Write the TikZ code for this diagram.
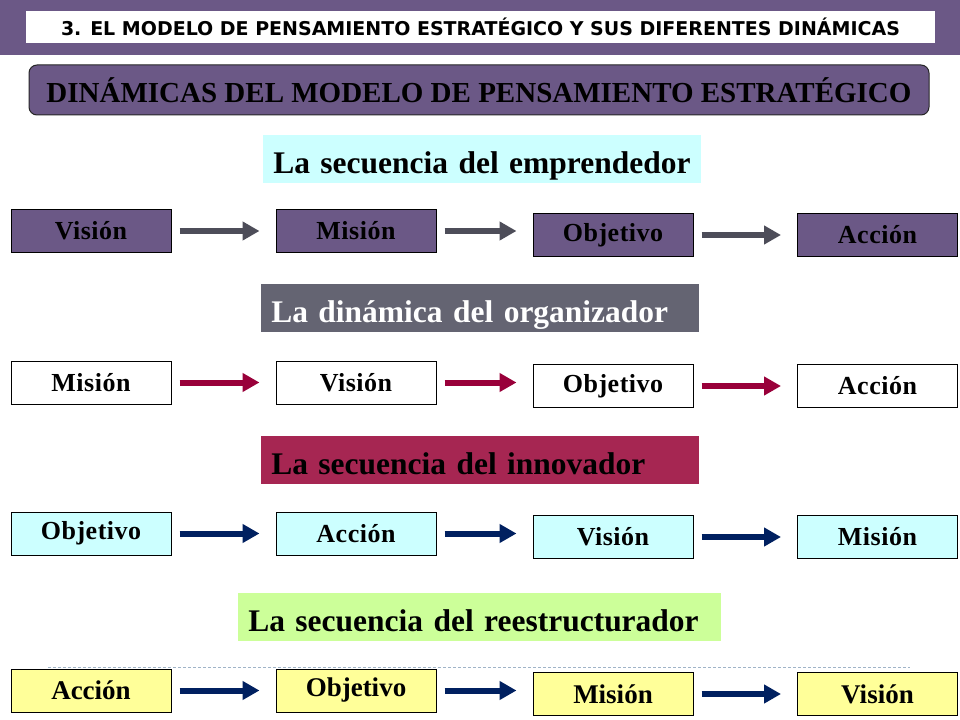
\documentclass[tikz,border=0pt]{standalone}
\usepackage{fontspec}
\setmainfont{Liberation Serif}
\newfontfamily\hdrfont{DejaVu Sans}
\newfontfamily\spacedserif{Liberation Serif}[LetterSpace=2]
\usetikzlibrary{arrows.meta}
\definecolor{band}{RGB}{107,88,134}
\definecolor{lcyan}{RGB}{204,255,255}
\definecolor{slate}{RGB}{100,100,114}
\definecolor{crim}{RGB}{166,38,82}
\definecolor{lgreen}{RGB}{204,255,153}
\definecolor{lyellow}{RGB}{255,255,153}
\definecolor{arrgray}{RGB}{77,77,89}
\definecolor{arrcrim}{RGB}{153,0,58}
\definecolor{arrnavy}{RGB}{0,32,96}
\definecolor{dashc}{RGB}{160,180,200}
\begin{document}
\begin{tikzpicture}[x=0.75pt,y=-0.75pt,
  bx/.style={draw=black, line width=0.75pt, minimum width=120pt, minimum height=32.25pt, inner sep=0pt,
    font={\spacedserif\bfseries\fontsize{19.5pt}{21pt}\selectfont}},
  bxfour/.style={bx, fill=lyellow, font={\bfseries\fontsize{20.25pt}{22pt}\selectfont}},
  ttl/.style={anchor=north west, inner xsep=7.5pt, inner ysep=0pt, text height=28.5pt, text depth=7.5pt, align=left,
    font={\bfseries\fontsize{23.6pt}{26pt}\selectfont}},
  arr/.style={line width=4.5pt, -{Triangle[length=12.75pt,width=13.5pt]}, shorten <=6pt, shorten >=12pt}
]
\useasboundingbox[fill=white] (0,0) rectangle (960,720);

% top band
\fill[band] (0,0) rectangle (960,55);
\node[fill=white, minimum width=681.75pt, minimum height=24pt, inner sep=0pt,
  font={\hdrfont\bfseries\fontsize{14.25pt}{16pt}\selectfont}] (hdr) at (480.5,27)
  {3. EL MODELO DE PENSAMIENTO ESTRATÉGICO Y SUS DIFERENTES DINÁMICAS};

% subtitle box
\node[draw=black!85, line width=0.75pt, fill=band, rounded corners=6pt, minimum width=675pt, minimum height=37.5pt,
  inner sep=0pt, font={\bfseries\fontsize{21.75pt}{24pt}\selectfont}] (sub) at (479,90)
  {DINÁMICAS DEL MODELO DE PENSAMIENTO ESTRATÉGICO};

% row 1
\node[ttl, fill=lcyan, text width=313.5pt] (t1) at (263,135) {La secuencia del emprendedor};
\node[bx, fill=band] (a1) at (91,231) {Visión};
\node[bx, fill=band] (a2) at (356,231) {Misión};
\node[bx, fill=band] (a3) at (613,235) {Objetivo};
\node[bx, fill=band] (a4) at (877.5,235) {Acción};
\draw[arr, arrgray] (a1.east) -- (a1.east -| a2.west);
\draw[arr, arrgray] (a2.east) -- (a2.east -| a3.west);
\draw[arr, arrgray] (a3.east) -- (a3.east -| a4.west);

% row 2
\node[ttl, fill=slate, text=white, text width=313.5pt] (t2) at (261,284) {La dinámica del organizador};
\node[bx, fill=white] (b1) at (91,382.5) {Misión};
\node[bx, fill=white] (b2) at (356,382.5) {Visión};
\node[bx, fill=white] (b3) at (613,386) {Objetivo};
\node[bx, fill=white] (b4) at (877.5,386) {Acción};
\draw[arr, arrcrim] (b1.east) -- (b1.east -| b2.west);
\draw[arr, arrcrim] (b2.east) -- (b2.east -| b3.west);
\draw[arr, arrcrim] (b3.east) -- (b3.east -| b4.west);

% row 3
\node[ttl, fill=crim, text width=313.5pt] (t3) at (261,436) {La secuencia del innovador};
\node[bx, fill=lcyan] (c1) at (91,533.5) {Objetivo};
\node[bx, fill=lcyan] (c2) at (356,533.5) {Acción};
\node[bx, fill=lcyan] (c3) at (613,537) {Visión};
\node[bx, fill=lcyan] (c4) at (877.5,537) {Misión};
\draw[arr, arrnavy] (c1.east) -- (c1.east -| c2.west);
\draw[arr, arrnavy] (c2.east) -- (c2.east -| c3.west);
\draw[arr, arrnavy] (c3.east) -- (c3.east -| c4.west);

% row 4
\node[ttl, fill=lgreen, text width=347.25pt] (t4) at (238,593) {La secuencia del reestructurador};
\draw[dashc, line width=0.75pt, dash pattern=on 2.25pt off 1.5pt] (48,667) -- (910,667);
\node[bxfour] (d1) at (91,690.5) {Acción};
\node[bxfour] (d2) at (356,690.5) {Objetivo};
\node[bxfour] (d3) at (613,694) {Misión};
\node[bxfour] (d4) at (877.5,694) {Visión};
\draw[arr, arrnavy] (d1.east) -- (d1.east -| d2.west);
\draw[arr, arrnavy] (d2.east) -- (d2.east -| d3.west);
\draw[arr, arrnavy] (d3.east) -- (d3.east -| d4.west);
\end{tikzpicture}
\end{document}
